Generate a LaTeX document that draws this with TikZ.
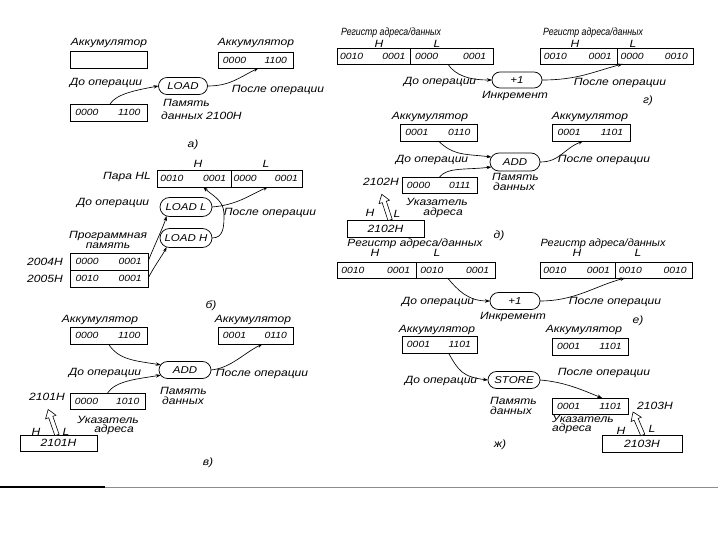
\documentclass[tikz,border=0pt]{standalone}
\usepackage{fontspec}
\setmainfont{Liberation Sans}[FakeStretch=1.15]
\usetikzlibrary{shapes.misc,arrows.meta,calc}
\newcommand\hw{\fontsize{10.5}{11}\selectfont\itshape}
\newcommand\pw{\fontsize{10}{11}\selectfont\itshape}
\newcommand\dw{\fontsize{9}{10}\selectfont\itshape}
\newcommand\mkbox[5]{\node[bx,minimum width={#4-#2},minimum height={#5-#3}] (#1) at ({(#2+#4)/2},{(#3+#5)/2}) {};}
\newcommand\twoval[3]{%
  \node[dig] (#1-a) at ($(#1.west)!0.22!(#1.east)$) {#2};
  \node[dig] (#1-b) at ($(#1.west)!0.77!(#1.east)$) {#3};}
\newcommand\fourval[6]{%
  \draw[ln] ($(#1.north west)!#2!(#1.north east)$) -- ($(#1.south west)!#2!(#1.south east)$);
  \node[dig] (#1-a) at ($(#1.west)!{#2*0.2}!(#1.east)$) {#3};
  \node[dig] (#1-b) at ($(#1.west)!{#2*0.78}!(#1.east)$) {#4};
  \node[dig] (#1-c) at ($(#1.west)!{#2+(1-#2)*0.2}!(#1.east)$) {#5};
  \node[dig] (#1-d) at ($(#1.west)!{#2+(1-#2)*0.78}!(#1.east)$) {#6};}
% hollow arrow: tail coordinate, angle, length
\newcommand\hollow[3]{%
  \draw[line width=0.6pt,fill=white,shift={(#1)},rotate=#2]
    (0,-2.2) -- ({#3-8},-2.2) -- ({#3-8},-5.5) -- (#3,0) -- ({#3-8},5.5) -- ({#3-8},2.2) -- (0,2.2) -- cycle;}
\tikzset{
  ln/.style={line width=0.75pt},
  bx/.style={draw,line width=0.75pt,inner sep=0pt,outer sep=0pt},
  pill/.style={draw,rounded rectangle,line width=0.75pt,inner sep=0pt,outer sep=0pt,font=\pw},
  tx/.style={inner sep=0pt,font=\hw},
  dig/.style={inner sep=0pt,font=\dw},
  arr/.style={line width=0.65pt,-{Stealth[length=5pt,width=3.5pt]}},
}
\begin{document}
\begin{tikzpicture}[x=1pt,y=-1pt]
\useasboundingbox (0,0) rectangle (720,540);
\fill[white] (0,0) rectangle (720,540);

% ---------------- panel a ----------------
\node[tx] (tAcc1) at (109,43) {Аккумулятор};
\mkbox{accA1}{70}{51}{147}{68}
\node[tx] (tAcc2) at (256,43) {Аккумулятор};
\mkbox{accA2}{218}{52}{293}{68}
\twoval{accA2}{0000}{1100}
\node[tx] (tDo1) at (106,83) {До операции};
\node[pill,minimum width=49pt,minimum height=17pt] (ldA) at (183,86) {LOAD};
\node[tx] (tPosle1) at (278,90) {После операции};
\mkbox{memA}{70}{104}{147}{121}
\twoval{memA}{0000}{1100}
\node[tx,anchor=west] (tMemA1) at (163,103) {Память};
\node[tx,anchor=west] (tMemA2) at (161,116) {данных 2100H};
\node[tx] (tA) at (193,145) {а)};
\draw[arr] ($(memA.north west)!0.52!(memA.north east)$) .. controls +(6,-10) and +(-22,4) .. (ldA.west);
\draw[arr] (ldA.east) .. controls +(22,0) and +(-20,10) .. ($(accA2.south)+(3,0)$);

% ---------------- panel b ----------------
\node[tx] (tHb) at (198,164) {H};
\node[tx] (tLb) at (266,164) {L};
\node[tx] (tPara) at (127,177) {Пара HL};
\mkbox{regB}{157}{170}{302}{187}
\fourval{regB}{0.51}{0010}{0001}{0000}{0001}
\node[tx] (tDo2) at (113,203) {До операции};
\node[pill,minimum width=52pt,minimum height=19pt] (ldL) at (186,207) {LOAD L};
\node[pill,minimum width=52pt,minimum height=19pt] (ldH) at (186,238) {LOAD H};
\node[tx] (tPosle2) at (270,213) {После операции};
\node[tx] (tProg1) at (108,236) {Программная};
\node[tx] (tProg2) at (108,246) {память};
\mkbox{tbl1}{70}{253}{148}{270}
\mkbox{tbl2}{70}{270}{148}{287}
\twoval{tbl1}{0000}{0001}
\twoval{tbl2}{0010}{0001}
\node[tx] (t2004) at (45,262) {2004H};
\node[tx] (t2005) at (45,279) {2005H};
\node[tx] (tB) at (211,306) {б)};
\draw[arr] (tbl1.east) .. controls +(6,-15) and +(-3,10) .. (ldL.205);
\draw[arr] (tbl2.east) .. controls +(6,-12) and +(-4,8) .. (ldH.205);
\draw[arr] (ldL.east) .. controls +(25,-2) and +(-18,8) .. ($(regB.south west)!0.765!(regB.south east)$);
\draw[arr] (ldH.east) .. controls +(12,0) and +(0,12) .. (224,214) .. controls +(0,-14) and +(8,8) .. ($(regB.south west)!0.32!(regB.south east)$);

% ---------------- panel v ----------------
\node[tx] (tAcc3) at (100,320) {Аккумулятор};
\mkbox{accV1}{70}{327}{147}{344}
\twoval{accV1}{0000}{1100}
\node[tx] (tAcc4) at (253,320) {Аккумулятор};
\mkbox{accV2}{218}{327}{293}{344}
\twoval{accV2}{0001}{0110}
\node[pill,minimum width=52pt,minimum height=17pt] (adV) at (185,370) {ADD};
\node[tx] (tDo3) at (105,373) {До операции};
\node[tx] (tPosle3) at (262,374) {После операции};
\mkbox{memV}{70}{393}{145}{409}
\twoval{memV}{0000}{1010}
\node[tx,anchor=west] (tMemV1) at (160,391) {Память};
\node[tx,anchor=west] (tMemV2) at (162,401) {данных};
\node[tx] (t2101) at (47,397) {2101H};
\node[tx] (tUkV1) at (108,420) {Указатель};
\node[tx] (tUkV2) at (114,430) {адреса};
\node[tx] (tHv) at (36,432) {H};
\node[tx] (tLv) at (66,432) {L};
\mkbox{ptrV}{20}{435}{97}{451}
\node[tx] (ptrVt) at (ptrV) {2101H};
\node[tx] (tV) at (208,463) {в)};
\draw[arr] (accV1.south) .. controls +(10,16) and +(-25,-4) .. (adV.168);
\draw[arr] (memV.north) .. controls +(8,-12) and +(-25,4) .. (adV.192);
\draw[arr] (adV.east) .. controls +(20,-2) and +(-20,10) .. ($(accV2.south)+(7,0)$);
\coordinate (hvT) at ($(ptrV.north west)!0.48!(ptrV.north east)$);
\hollow{hvT}{109}{27}

% ---------------- panel g ----------------
\node[tx] (tReg1) at (391,33) {\resizebox{100pt}{\height}{Регистр адреса/данных}};
\node[tx] (tHg1) at (379,44) {H};
\node[tx] (tLg1) at (437,44) {L};
\mkbox{regG1}{337}{48}{493}{64}
\fourval{regG1}{0.468}{0010}{0001}{0000}{0001}
\node[tx] (tReg2) at (593,33) {\resizebox{100pt}{\height}{Регистр адреса/данных}};
\node[tx] (tHg2) at (575,44) {H};
\node[tx] (tLg2) at (633,44) {L};
\mkbox{regG2}{540}{48}{693}{64}
\fourval{regG2}{0.503}{0010}{0001}{0000}{0010}
\node[pill,minimum width=50pt,minimum height=16pt] (plG) at (517,80) {+1};
\node[tx] (tDo4) at (440,82) {До операции};
\node[tx] (tPosle4) at (620,83) {После операции};
\node[tx] (tInk1) at (515,96) {Инкремент};
\node[tx] (tG) at (648,101) {г)};
\draw[arr] ($(regG1.south west)!0.71!(regG1.south east)$) .. controls +(8,12) and +(-22,0) .. (plG.west);
\draw[arr] (plG.east) .. controls +(35,0) and +(-30,8) .. ($(regG2.south west)!0.54!(regG2.south east)$);

% ---------------- panel d ----------------
\node[tx] (tAcc5) at (430,117) {Аккумулятор};
\mkbox{accD1}{400}{124}{477}{141}
\twoval{accD1}{0001}{0110}
\node[tx] (tAcc6) at (590,117) {Аккумулятор};
\mkbox{accD2}{552}{124}{630}{141}
\twoval{accD2}{0001}{1101}
\node[pill,minimum width=50pt,minimum height=18pt] (adD) at (515,162) {ADD};
\node[tx] (tDo5) at (432,160) {До операции};
\node[tx] (tPosle5) at (604,160) {После операции};
\node[tx,anchor=west] (tMemD1) at (492,177) {Память};
\node[tx,anchor=west] (tMemD2) at (493,187) {данных};
\mkbox{memD}{402}{177}{477}{193}
\twoval{memD}{0000}{0111}
\node[tx] (t2102) at (381,182) {2102H};
\node[tx] (tUkD1) at (437,202) {Указатель};
\node[tx] (tUkD2) at (443,213) {адреса};
\node[tx] (tHd) at (370,213) {H};
\node[tx] (tLd) at (397,214) {L};
\mkbox{ptrD}{347}{220}{424}{237}
\node[tx] (ptrDt) at (ptrD) {2102H};
\node[tx] (tD) at (499,236) {д)};
\draw[arr] (accD1.south) .. controls +(15,15) and +(-25,-3) .. (adD.168);
\draw[arr] (memD.north) .. controls +(8,-10) and +(-25,3) .. (adD.192);
\draw[arr] (adD.east) .. controls +(20,0) and +(-20,8) .. ($(accD2.south west)!0.4!(accD2.south east)$);
\coordinate (hdT) at ($(ptrD.north west)!0.56!(ptrD.north east)$);
\hollow{hdT}{108}{27}

% ---------------- panel e ----------------
\node[tx] (tReg3) at (415,244) {\resizebox{135pt}{\height}{Регистр адреса/данных}};
\node[tx] (tHe1) at (375,253) {H};
\node[tx] (tLe1) at (437,253) {L};
\mkbox{regE1}{337}{262}{495}{278}
\fourval{regE1}{0.5}{0010}{0001}{0010}{0001}
\node[tx] (tReg4) at (603,244) {\resizebox{125pt}{\height}{Регистр адреса/данных}};
\node[tx] (tHe2) at (577,253) {H};
\node[tx] (tLe2) at (638,253) {L};
\mkbox{regE2}{540}{262}{692}{278}
\fourval{regE2}{0.493}{0010}{0001}{0010}{0010}
\node[pill,minimum width=50pt,minimum height=17pt] (plE) at (515,301) {+1};
\node[tx] (tDo6) at (438,302) {До операции};
\node[tx] (tPosle6) at (615,302) {После операции};
\node[tx] (tInk2) at (513,317) {Инкремент};
\node[tx] (tE) at (638,321) {е)};
\draw[arr] ($(regE1.south west)!0.7!(regE1.south east)$) .. controls +(10,12) and +(-22,0) .. (plE.west);
\draw[arr] (plE.east) .. controls +(35,0) and +(-30,8) .. ($(regE2.south west)!0.56!(regE2.south east)$);

% ---------------- panel zh ----------------
\node[tx] (tAcc7) at (437,330) {Аккумулятор};
\mkbox{accJ1}{402}{336}{477}{353}
\twoval{accJ1}{0001}{1101}
\node[tx] (tAcc8) at (584,330) {Аккумулятор};
\mkbox{accJ2}{552}{338}{628}{355}
\twoval{accJ2}{0001}{1101}
\node[pill,minimum width=52pt,minimum height=17pt] (stJ) at (514,380) {STORE};
\node[tx] (tDo7) at (441,381) {До операции};
\node[tx] (tPosle7) at (604,373) {После операции};
\node[tx,anchor=west] (tMemJ1) at (490,401) {Память};
\node[tx,anchor=west] (tMemJ2) at (490,411) {данных};
\mkbox{memJ}{552}{398}{628}{414}
\twoval{memJ}{0001}{1101}
\node[tx] (t2103) at (655,406) {2103H};
\node[tx,anchor=west] (tUkJ1) at (552,419) {Указатель};
\node[tx,anchor=west] (tUkJ2) at (552,429) {адреса};
\node[tx] (tHj) at (621,431) {H};
\node[tx] (tLj) at (652,429) {L};
\mkbox{ptrJ}{602}{435}{682}{452}
\node[tx] (ptrJt) at (ptrJ) {2103H};
\node[tx] (tJ) at (500,445) {ж)};
\draw[arr] ($(accJ1.south west)!0.62!(accJ1.south east)$) .. controls +(10,18) and +(-25,-3) .. (stJ.west);
\draw[arr] (stJ.east) .. controls +(25,2) and +(-20,-8) .. ($(memJ.north west)!0.66!(memJ.north east)$);
\coordinate (hjT) at ($(ptrJ.north west)!0.51!(ptrJ.north east)$);
\hollow{hjT}{113}{25}

% ---------------- bottom rule ----------------
\coordinate (bl0) at (0,487);
\coordinate (bl1) at (105,487);
\coordinate (bl2) at (718,487);
\draw[line width=1.1pt] (bl0) -- (bl1);
\draw[line width=0.5pt,black!45] (bl1) -- (bl2);
\end{tikzpicture}
\end{document}
